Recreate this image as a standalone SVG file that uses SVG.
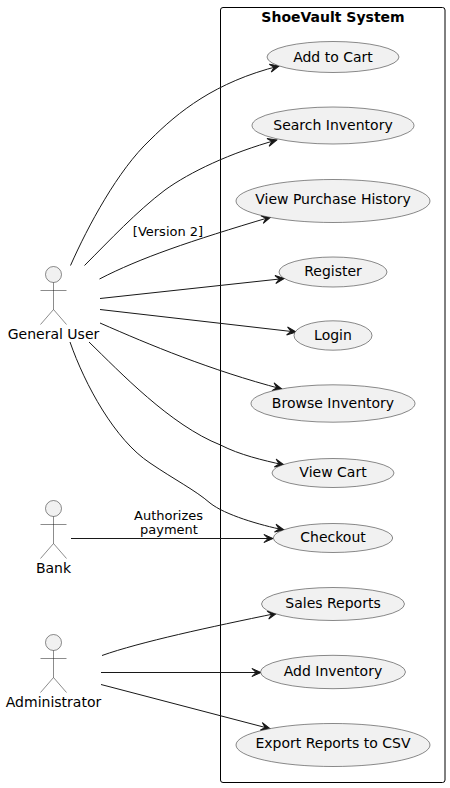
<svg xmlns="http://www.w3.org/2000/svg" width="450" height="788" viewBox="0 0 450 788">
<style>
text{font-family:"DejaVu Sans",sans-serif;fill:#000}
.n{font-size:14px;text-anchor:middle}
.l{font-size:13px;text-anchor:middle}
.t{font-size:14px;font-weight:700;text-anchor:middle}
.u{fill:#F1F1F1;stroke:#181818;stroke-width:.5}
.a{fill:none;stroke:#181818;stroke-width:.5}
.c{fill:none;stroke:#181818;stroke-width:1;marker-end:url(#h)}
</style>
<defs>
<marker id="h" markerUnits="userSpaceOnUse" markerWidth="12" markerHeight="10" viewBox="-10 -5 12 10" refX="0" refY="0" orient="auto"><path d="M0,0L-9,-4L-5,0L-9,4Z" fill="#181818" stroke="#181818" stroke-width="1"/></marker>
<g id="actor"><circle class="u" cx="0" cy="0" r="8"/><path class="a" d="M0,8V35M-13,16H13M0,35L-13,50M0,35L13,50"/></g>
</defs>
<rect width="450" height="788" fill="#fff"/>
<g id="frame"><rect x="220.5" y="7.5" width="224.5" height="775" rx="2.5" fill="none" stroke="#000" stroke-width="1"/><text class="t" x="333" y="22">ShoeVault System</text></g>
<g id="connectors">
<path class="c" d="M70.5,265.5C88,226 118,170 150,140C178,112 215,82 279,66"/>
<path class="c" d="M84.5,265.5C110,240 136,212 165,190C190,172 230,153 276.7,140"/>
<path class="c" d="M99.5,279C140,258 190,241 270.7,217"/>
<path class="c" d="M100,298.5L284.3,278.5"/>
<path class="c" d="M100,309.5L296,332"/>
<path class="c" d="M100,323C150,345 210,370 281.7,389"/>
<path class="c" d="M89,342C120,372 170,425 220.5,445C240,455 262,460 284,465"/>
<path class="c" d="M70,342C85,385 115,440 150,463C175,480 195,490 210,503C225,515 260,525 284,530"/>
<path class="c" d="M71,538.5H273"/>
<path class="c" d="M102,655.5C140,642 210,627 276.7,613.3"/>
<path class="c" d="M101,672.5H261"/>
<path class="c" d="M101,684.5L270,728.7"/>
<text class="l" x="168" y="236">[Version 2]</text>
<text class="l" x="168.500" y="519.500">Authorizes</text>
<text class="l" x="169" y="534">payment</text>
</g>
<g id="general-user"><use href="#actor" x="53.500" y="274.500"/><text class="n" x="53.500" y="339">General User</text></g>
<g id="bank"><use href="#actor" x="53.500" y="508.500"/><text class="n" x="53.500" y="573">Bank</text></g>
<g id="administrator"><use href="#actor" x="53.500" y="642.500"/><text class="n" x="53.500" y="707">Administrator</text></g>
<g id="add-to-cart"><ellipse class="u" cx="333" cy="57" rx="66" ry="15.500"/><text class="n" x="333" y="61.500">Add to Cart</text></g>
<g id="search-inventory"><ellipse class="u" cx="333" cy="125.500" rx="81" ry="18.500"/><text class="n" x="333" y="129.500">Search Inventory</text></g>
<g id="view-purchase-history"><ellipse class="u" cx="333" cy="201" rx="97" ry="21.500"/><text class="n" x="333" y="204">View Purchase History</text></g>
<g id="register"><ellipse class="u" cx="333" cy="272" rx="54" ry="15"/><text class="n" x="333" y="276">Register</text></g>
<g id="login"><ellipse class="u" cx="333" cy="335.500" rx="39" ry="14.700"/><text class="n" x="333" y="339.500">Login</text></g>
<g id="browse-inventory"><ellipse class="u" cx="333" cy="403.500" rx="82" ry="18.700"/><text class="n" x="333" y="407.500">Browse Inventory</text></g>
<g id="view-cart"><ellipse class="u" cx="333" cy="473" rx="61" ry="14.500"/><text class="n" x="333" y="477">View Cart</text></g>
<g id="checkout"><ellipse class="u" cx="333" cy="538" rx="59.700" ry="14.500"/><text class="n" x="333" y="542">Checkout</text></g>
<g id="sales-reports"><ellipse class="u" cx="333" cy="604" rx="71.500" ry="16.500"/><text class="n" x="333" y="608">Sales Reports</text></g>
<g id="add-inventory"><ellipse class="u" cx="333" cy="672" rx="72.500" ry="16.700"/><text class="n" x="333" y="676">Add Inventory</text></g>
<g id="export-reports"><ellipse class="u" cx="333" cy="745" rx="97" ry="21.500"/><text class="n" x="333" y="748">Export Reports to CSV</text></g>
</svg>
